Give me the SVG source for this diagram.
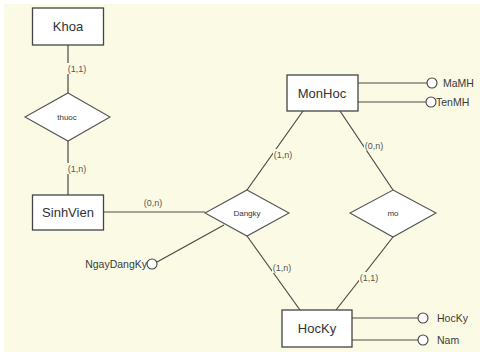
<svg xmlns="http://www.w3.org/2000/svg" width="480" height="352" viewBox="0 0 480 352">
  <style>
    .ent { fill: #ffffff; stroke: #444; stroke-width: 1.3; }
    .rel { fill: #ffffff; stroke: #555; stroke-width: 1.1; }
    .ln { stroke: #4a4a4a; stroke-width: 1.2; fill: none; }
    .att { fill: #ffffff; stroke: #444; stroke-width: 1.1; }
    .lbg { fill: #fbfae4; }
    .etx { font-family: "Liberation Sans", Arial, sans-serif; font-size: 13px; fill: #333; text-anchor: middle; }
    .rtx { font-family: "Liberation Sans", Arial, sans-serif; font-size: 8px; fill: #333; text-anchor: middle; }
    .ctx { font-family: "Liberation Sans", Arial, sans-serif; font-size: 9px; fill: #555; text-anchor: middle; }
    .atx { font-family: "Liberation Sans", Arial, sans-serif; font-size: 10.5px; fill: #3a3a3a; }
  </style>
  <rect x="0" y="0" width="480" height="352" fill="#ffffff"/>
  <rect x="4" y="4" width="476" height="348" fill="#fbfae4"/>

  <g id="connectors">
    <line class="ln" x1="68" y1="44" x2="68" y2="93"/>
    <line class="ln" x1="68" y1="141" x2="68" y2="195"/>
    <line class="ln" x1="103" y1="212" x2="205" y2="212"/>
    <line class="ln" x1="303" y1="111" x2="247" y2="190"/>
    <line class="ln" x1="340" y1="111" x2="393" y2="190"/>
    <line class="ln" x1="247" y1="236" x2="300" y2="310"/>
    <line class="ln" x1="393" y1="237" x2="336" y2="310"/>
    <line class="ln" x1="224" y1="225" x2="157" y2="262"/>
    <line class="ln" x1="358" y1="83" x2="427" y2="83"/>
    <line class="ln" x1="358" y1="102" x2="426" y2="102"/>
    <line class="ln" x1="352" y1="318" x2="418" y2="318"/>
    <line class="ln" x1="352" y1="340" x2="418" y2="340"/>
    <!-- cardinality labels sit on the lines with a backing patch -->
    <rect class="lbg" x="67" y="63" width="20" height="11"/>
    <text class="ctx" x="77" y="72">(1,1)</text>
    <rect class="lbg" x="67" y="163" width="20" height="11"/>
    <text class="ctx" x="77" y="172">(1,n)</text>
    <rect class="lbg" x="143" y="198" width="20" height="10"/>
    <text class="ctx" x="153" y="206">(0,n)</text>
    <rect class="lbg" x="273" y="149" width="20" height="11"/>
    <text class="ctx" x="283" y="158">(1,n)</text>
    <rect class="lbg" x="364" y="140" width="20" height="11"/>
    <text class="ctx" x="374" y="149">(0,n)</text>
    <rect class="lbg" x="272" y="262" width="20" height="11"/>
    <text class="ctx" x="282" y="271">(1,n)</text>
    <rect class="lbg" x="359" y="272" width="20" height="11"/>
    <text class="ctx" x="369" y="281">(1,1)</text>
  </g>

  <g id="Khoa">
    <rect class="ent" x="32.5" y="8" width="71" height="37"/>
    <text class="etx" x="68" y="31">Khoa</text>
  </g>
  <g id="thuoc">
    <polygon class="rel" points="68,93 110,117 68,141 25,117"/>
    <text class="rtx" x="67" y="120">thuoc</text>
  </g>
  <g id="SinhVien">
    <rect class="ent" x="32.5" y="195" width="71" height="35"/>
    <text class="etx" x="68" y="217">SinhVien</text>
  </g>
  <g id="Dangky">
    <polygon class="rel" points="247,190 289,213 247,236 205,213"/>
    <text class="rtx" x="247" y="216">Dangky</text>
  </g>
  <g id="MonHoc">
    <rect class="ent" x="287" y="75" width="71" height="36"/>
    <text class="etx" x="322" y="98">MonHoc</text>
  </g>
  <g id="mo">
    <polygon class="rel" points="393,190 436,213 393,237 350,213"/>
    <text class="rtx" x="393" y="216">mo</text>
  </g>
  <g id="HocKy">
    <rect class="ent" x="282" y="310" width="70" height="37"/>
    <text class="etx" x="317" y="333">HocKy</text>
  </g>
  <g id="MaMH">
    <circle class="att" cx="432" cy="83" r="5"/>
    <text class="atx" x="443" y="87">MaMH</text>
  </g>
  <g id="TenMH">
    <circle class="att" cx="431" cy="102" r="5"/>
    <text class="atx" x="436" y="106">TenMH</text>
  </g>
  <g id="NgayDangKy">
    <circle class="att" cx="152" cy="264" r="5"/>
    <text class="atx" x="147" y="268" text-anchor="end">NgayDangKy</text>
  </g>
  <g id="HocKyAttr">
    <circle class="att" cx="423" cy="318" r="5"/>
    <text class="atx" x="437" y="322">HocKy</text>
  </g>
  <g id="Nam">
    <circle class="att" cx="423" cy="340" r="5"/>
    <text class="atx" x="437" y="344">Nam</text>
  </g>
</svg>
